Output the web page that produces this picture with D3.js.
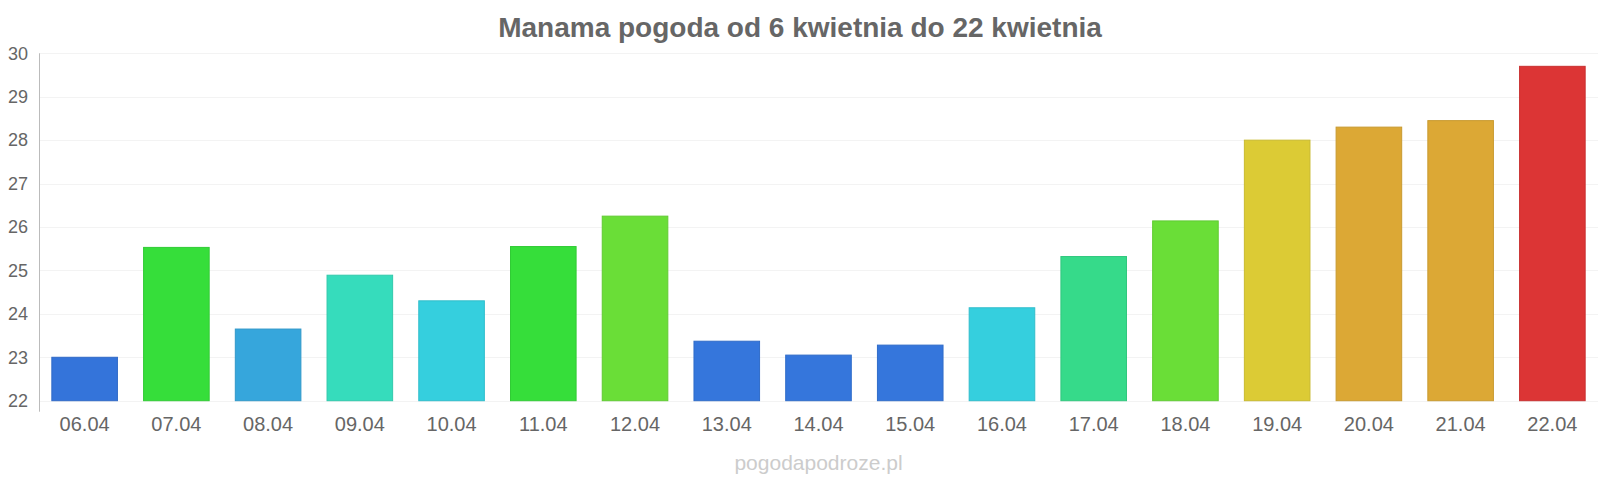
<!DOCTYPE html>
<html><head><meta charset="utf-8">
<script src="https://cdn.jsdelivr.net/npm/d3@7"></script>
<style>body{margin:0;background:#fff}svg{display:block;font-family:"Liberation Sans",Arial,sans-serif}</style>
</head><body><svg id="c" width="1600" height="480"></svg>
<script>
const title = "Manama pogoda od 6 kwietnia do 22 kwietnia";
const watermark = "pogodapodroze.pl";
const categories = ["06.04","07.04","08.04","09.04","10.04","11.04","12.04","13.04","14.04","15.04","16.04","17.04","18.04","19.04","20.04","21.04","22.04"];
const values = [23.0,25.53,23.65,24.89,24.3,25.55,26.25,23.37,23.05,23.28,24.14,25.32,26.14,28.0,28.3,28.45,29.7];
const colors = ["#3474da","#36de3a","#36a6dc","#36dcbc","#35cfde","#36de3a","#6ade37","#3576dc","#3576dc","#3576dc","#35cfde","#36da8a","#6ade37","#dccb35","#dca835","#dca835","#dc3535"];
const yTicks = [22,23,24,25,26,27,28,29,30];

const svg = d3.select("#c");
const mLeft = 39, mRight = 1598, mTop = 53.3, mBottom = 400.7;
const x = d3.scaleBand().domain(categories).range([mLeft, mRight]).paddingInner(0.285).paddingOuter(0.14);
const y = d3.scaleLinear().domain([22,30]).range([mBottom, mTop]);

// gridlines
svg.append("g").selectAll("line").data(yTicks).join("line")
  .attr("x1", mLeft).attr("x2", mRight)
  .attr("y1", d => Math.round(y(d))+0.5).attr("y2", d => Math.round(y(d))+0.5)
  .attr("stroke", "#f3f3f3").attr("stroke-width", 1);

// bars
svg.append("g").selectAll("rect").data(values).join("rect")
  .attr("x", (d,i) => x(categories[i]))
  .attr("width", x.bandwidth())
  .attr("y", d => y(d))
  .attr("height", d => y(22) - y(d))
  .attr("fill", (d,i) => colors[i])
  .attr("stroke", (d,i) => d3.color(colors[i]).darker(0.25))
  .attr("stroke-width", 1);

// y axis line
svg.append("line").attr("x1", mLeft+0.5).attr("x2", mLeft+0.5).attr("y1", mTop).attr("y2", mBottom+11)
  .attr("stroke", "#bbb").attr("stroke-width", 1);

// y labels
svg.append("g").selectAll("text").data(yTicks).join("text")
  .attr("x", 28).attr("y", d => y(d)).attr("dy", "0.35em")
  .attr("text-anchor", "end").attr("font-size", 18).attr("fill", "#666")
  .text(d => d);

// x labels
svg.append("g").selectAll("text").data(categories).join("text")
  .attr("x", d => x(d) + x.bandwidth()/2).attr("y", 431)
  .attr("text-anchor", "middle").attr("font-size", 20).attr("fill", "#666")
  .text(d => d);

// title
svg.append("text").attr("x", 800).attr("y", 37).attr("text-anchor", "middle")
  .attr("font-size", 28).attr("font-weight", "bold").attr("fill", "#666").text(title);

// watermark
svg.append("text").attr("x", (mLeft+mRight)/2).attr("y", 470).attr("text-anchor", "middle")
  .attr("font-size", 21).attr("fill", "#ccc").text(watermark);
</script></body></html>
